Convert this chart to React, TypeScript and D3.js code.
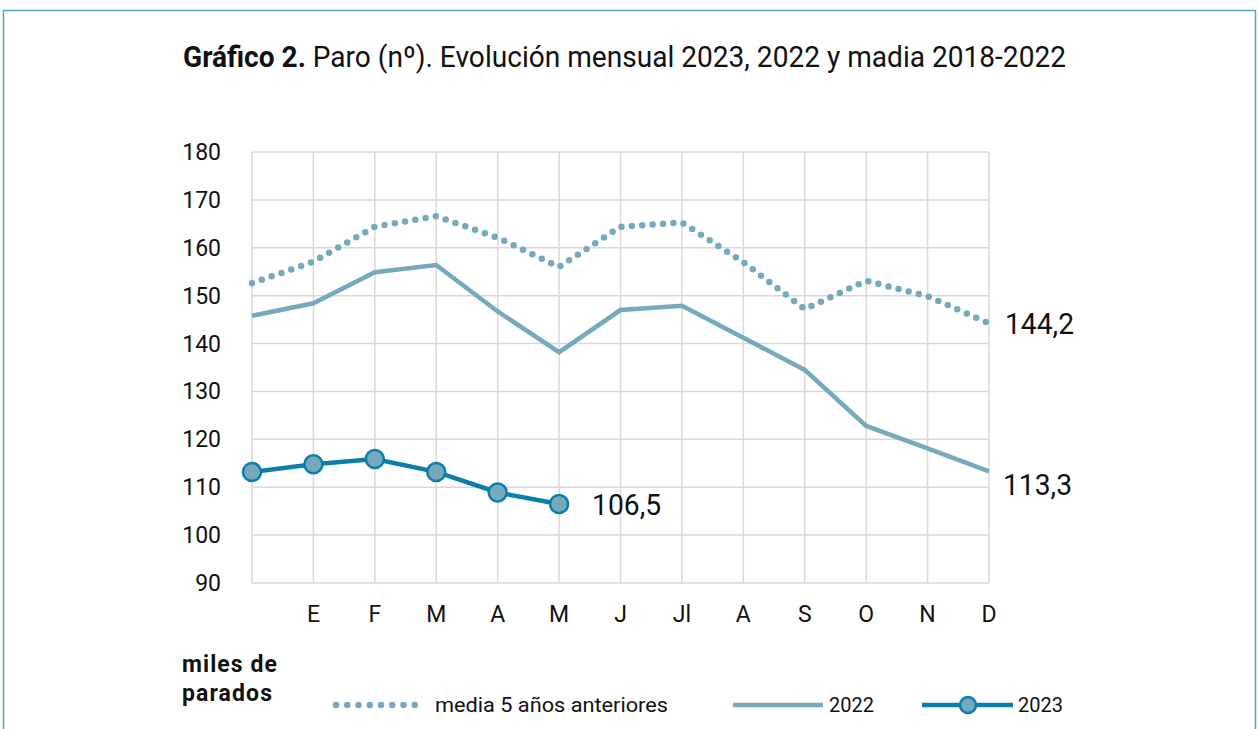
import React, { useEffect, useRef } from 'react';
import * as d3 from 'd3';

// eje X: 13 posiciones (dic. año anterior + 12 meses)
const months = ['', 'E', 'F', 'M', 'A', 'M', 'J', 'Jl', 'A', 'S', 'O', 'N', 'D'];
const yTicks = [90, 100, 110, 120, 130, 140, 150, 160, 170, 180];

// miles de parados
const media5 = [152.6, 157.1, 164.4, 166.6, 162.1, 156.0, 164.4, 165.3, 157.0, 147.2, 153.1, 149.9, 144.2];
const serie2022 = [145.8, 148.4, 154.9, 156.4, 146.7, 138.2, 147.0, 147.9, 141.2, 134.5, 122.8, 118.1, 113.3];
const serie2023 = [113.2, 114.8, 115.9, 113.2, 108.9, 106.5];

const FONT = 'Roboto, "Noto Sans", sans-serif';
const C_LIGHT = '#76a8be';
const C_DARK = '#0b7ea9';

const App = () => {
  const ref = useRef<SVGSVGElement>(null);

  useEffect(() => {
    const svg = d3.select(ref.current);
    svg.selectAll('*').remove();

    const width = 1259;
    const height = 729;
    const margin = { top: 152, right: 270, bottom: 146, left: 252 };

    const x = d3.scaleLinear()
      .domain([0, months.length - 1])
      .range([margin.left, width - margin.right]);

    const y = d3.scaleLinear()
      .domain([90, 180])
      .range([height - margin.bottom, margin.top]);

    // marco
    svg.append('rect')
      .attr('x', 3.5).attr('y', 10.5)
      .attr('width', 1252).attr('height', 760)
      .attr('fill', 'none')
      .attr('stroke', '#4ea6cb')
      .attr('stroke-width', 1.5);

    // título
    const title = svg.append('text')
      .attr('x', 183).attr('y', 67)
      .attr('font-family', FONT)
      .attr('font-size', 29)
      .attr('fill', '#111')
      .attr('textLength', 883)
      .attr('lengthAdjust', 'spacingAndGlyphs');
    title.append('tspan').attr('font-weight', 'bold').text('Gráfico 2.');
    title.append('tspan').text(' Paro (nº). Evolución mensual 2023, 2022 y madia 2018-2022');

    // rejilla
    svg.append('g')
      .selectAll('line')
      .data(yTicks)
      .join('line')
        .attr('x1', x(0)).attr('x2', x(months.length - 1))
        .attr('y1', d => y(d)).attr('y2', d => y(d))
        .attr('stroke', '#d9d9d9')
        .attr('stroke-width', 1.5);

    svg.append('g')
      .selectAll('line')
      .data(months.map((_, i) => i))
      .join('line')
        .attr('x1', d => x(d)).attr('x2', d => x(d))
        .attr('y1', y(90)).attr('y2', y(180))
        .attr('stroke', '#d9d9d9')
        .attr('stroke-width', 1.5);

    // etiquetas eje Y
    svg.append('g')
      .selectAll('text')
      .data(yTicks)
      .join('text')
        .attr('x', 221)
        .attr('y', d => y(d) + 8)
        .attr('text-anchor', 'end')
        .attr('font-family', FONT)
        .attr('font-size', 23)
        .attr('fill', '#111')
        .text(d => d);

    // etiquetas eje X
    svg.append('g')
      .selectAll('text')
      .data(months)
      .join('text')
        .attr('x', (_, i) => x(i))
        .attr('y', 622)
        .attr('text-anchor', 'middle')
        .attr('font-family', FONT)
        .attr('font-size', 23)
        .attr('fill', '#111')
        .text(d => d);

    const line = d3.line<number>()
      .x((_, i) => x(i))
      .y(d => y(d));

    svg.append('path')
      .datum(media5)
      .attr('d', line)
      .attr('fill', 'none')
      .attr('stroke', C_LIGHT)
      .attr('stroke-width', 6.5)
      .attr('stroke-linecap', 'round')
      .attr('stroke-dasharray', '0 10.4');

    svg.append('path')
      .datum(serie2022)
      .attr('d', line)
      .attr('fill', 'none')
      .attr('stroke', C_LIGHT)
      .attr('stroke-width', 4.5);

    svg.append('path')
      .datum(serie2023)
      .attr('d', line)
      .attr('fill', 'none')
      .attr('stroke', C_DARK)
      .attr('stroke-width', 4.5);

    svg.append('g')
      .selectAll('circle')
      .data(serie2023)
      .join('circle')
        .attr('cx', (_, i) => x(i))
        .attr('cy', d => y(d))
        .attr('r', 9)
        .attr('fill', C_LIGHT)
        .attr('stroke', C_DARK)
        .attr('stroke-width', 2.5);

    // valores finales
    const fmt = (v: number) => v.toFixed(1).replace('.', ',');
    const labels = [
      { v: media5[media5.length - 1], i: media5.length - 1, dx: 16, dy: 11 },
      { v: serie2022[serie2022.length - 1], i: serie2022.length - 1, dx: 14, dy: 24 },
      { v: serie2023[serie2023.length - 1], i: serie2023.length - 1, dx: 33, dy: 11 },
    ];
    svg.append('g')
      .selectAll('text')
      .data(labels)
      .join('text')
        .attr('x', d => x(d.i) + d.dx)
        .attr('y', d => y(d.v) + d.dy)
        .attr('font-family', FONT)
        .attr('font-size', 29)
        .attr('fill', '#111')
        .attr('textLength', 69)
        .attr('lengthAdjust', 'spacingAndGlyphs')
        .text(d => fmt(d.v));

    // unidades
    const unit = svg.append('text')
      .attr('font-family', FONT)
      .attr('font-size', 23)
      .attr('font-weight', 'bold')
      .attr('fill', '#111')
      .attr('lengthAdjust', 'spacingAndGlyphs');
    unit.append('tspan').attr('x', 182).attr('y', 672)
      .attr('textLength', 95).text('miles de');
    unit.append('tspan').attr('x', 182).attr('y', 701)
      .attr('textLength', 90).text('parados');

    // leyenda
    const lg = svg.append('g');
    lg.append('line')
      .attr('x1', 336).attr('x2', 426).attr('y1', 705).attr('y2', 705)
      .attr('stroke', C_LIGHT).attr('stroke-width', 6.5)
      .attr('stroke-linecap', 'round').attr('stroke-dasharray', '0 11.25');
    lg.append('text')
      .attr('x', 435).attr('y', 712)
      .attr('font-family', FONT).attr('font-size', 20).attr('fill', '#111')
      .attr('textLength', 233).attr('lengthAdjust', 'spacingAndGlyphs')
      .text('media 5 años anteriores');
    lg.append('line')
      .attr('x1', 733).attr('x2', 823).attr('y1', 705).attr('y2', 705)
      .attr('stroke', C_LIGHT).attr('stroke-width', 4.5);
    lg.append('text')
      .attr('x', 829).attr('y', 712)
      .attr('font-family', FONT).attr('font-size', 20).attr('fill', '#111')
      .text('2022');
    lg.append('line')
      .attr('x1', 922).attr('x2', 1013).attr('y1', 705).attr('y2', 705)
      .attr('stroke', C_DARK).attr('stroke-width', 4.5);
    lg.append('circle')
      .attr('cx', 968).attr('cy', 705).attr('r', 8)
      .attr('fill', C_LIGHT).attr('stroke', C_DARK).attr('stroke-width', 2.5);
    lg.append('text')
      .attr('x', 1018).attr('y', 712)
      .attr('font-family', FONT).attr('font-size', 20).attr('fill', '#111')
      .text('2023');
  }, []);

  return (
    <svg
      ref={ref}
      width="1259"
      height="729"
      style={{ position: 'absolute', left: 0, top: 0, background: '#fff' }}
    ></svg>
  );
};

export default App;
